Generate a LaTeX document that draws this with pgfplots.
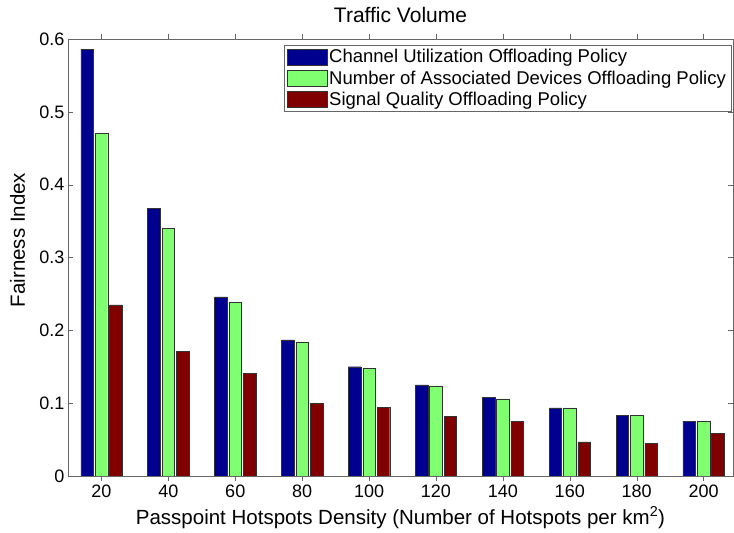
\documentclass[border=0pt]{standalone}
\usepackage{fontspec}
\setmainfont{Liberation Sans}
\usepackage{pgfplots}
\pgfplotsset{compat=1.18}

\definecolor{cublue}{RGB}{0,0,143}
\definecolor{nagreen}{RGB}{128,255,112}
\definecolor{sqred}{RGB}{128,0,0}
\definecolor{edgegray}{RGB}{50,50,50}

\pgfplotsset{
  barkey/.style={
    legend image code/.code={
      \draw[##1, draw=edgegray] (0bp,-8bp) rectangle (40bp,8bp);
    }
  }
}

\begin{document}
\begin{tikzpicture}
  \useasboundingbox (0,0) rectangle (734bp,533bp);
  \begin{axis}[
    at={(68bp,57bp)}, anchor=south west,
    scale only axis,
    width=665bp, height=437bp,
    xmin=10, xmax=208.8,
    ymin=0, ymax=0.6,
    xtick={20,40,...,200},
    ytick={0,0.1,...,0.6},
    yticklabels={0,0.1,0.2,0.3,0.4,0.5,0.6},
    tick align=inside,
    tick pos=both,
    major tick length=5bp,
    axis line style={draw=gray!80!black},
    tick style={draw=gray!80!black},
    /pgf/number format/assume math mode=true,
    tick label style={font=\fontsize{18bp}{21bp}\selectfont},
    xlabel={Passpoint Hotspots Density (Number of Hotspots per km\textsuperscript{2})},
    ylabel={Fairness Index},
    title={Traffic Volume},
    label style={font=\fontsize{20.5bp}{24bp}\selectfont},
    xlabel style={at={(axis description cs:0.5,0)}, anchor=base, yshift=-48bp},
    ylabel style={at={(axis description cs:0,0.54)}, anchor=base, yshift=43bp},
    title style={font=\fontsize{21bp}{24bp}\selectfont,
      at={(axis description cs:0.5,1)}, anchor=base, yshift=11bp},
    legend style={at={(rel axis cs:0.997,0.986)}, anchor=north east,
      font=\fontsize{18.5bp}{22bp}\selectfont, draw=gray!80!black,
      row sep=4.5bp, inner xsep=3bp, inner ysep=3bp,
      nodes={inner ysep=1bp}},
    legend cell align=left,
    ybar=0pt,
    bar width=3.75,
  ]
    \addplot[fill=cublue, draw=edgegray, bar shift=-4.3, barkey] coordinates {
      (20,0.586) (40,0.367) (60,0.246) (80,0.187) (100,0.150)
      (120,0.125) (140,0.1076) (160,0.0934) (180,0.0828) (200,0.0755)
    };
    \addlegendentry{Channel Utilization Offloading Policy}
    \addplot[fill=nagreen, draw=edgegray, bar shift=0, barkey] coordinates {
      (20,0.470) (40,0.340) (60,0.239) (80,0.184) (100,0.148)
      (120,0.1236) (140,0.106) (160,0.0934) (180,0.0828) (200,0.0750)
    };
    \addlegendentry{Number of Associated Devices Offloading Policy}
    \addplot[fill=sqred, draw=edgegray, bar shift=4.3, barkey] coordinates {
      (20,0.235) (40,0.171) (60,0.1405) (80,0.100) (100,0.094)
      (120,0.0815) (140,0.0746) (160,0.047) (180,0.0453) (200,0.0586)
    };
    \addlegendentry{Signal Quality Offloading Policy}
  \end{axis}
\end{tikzpicture}
\end{document}
